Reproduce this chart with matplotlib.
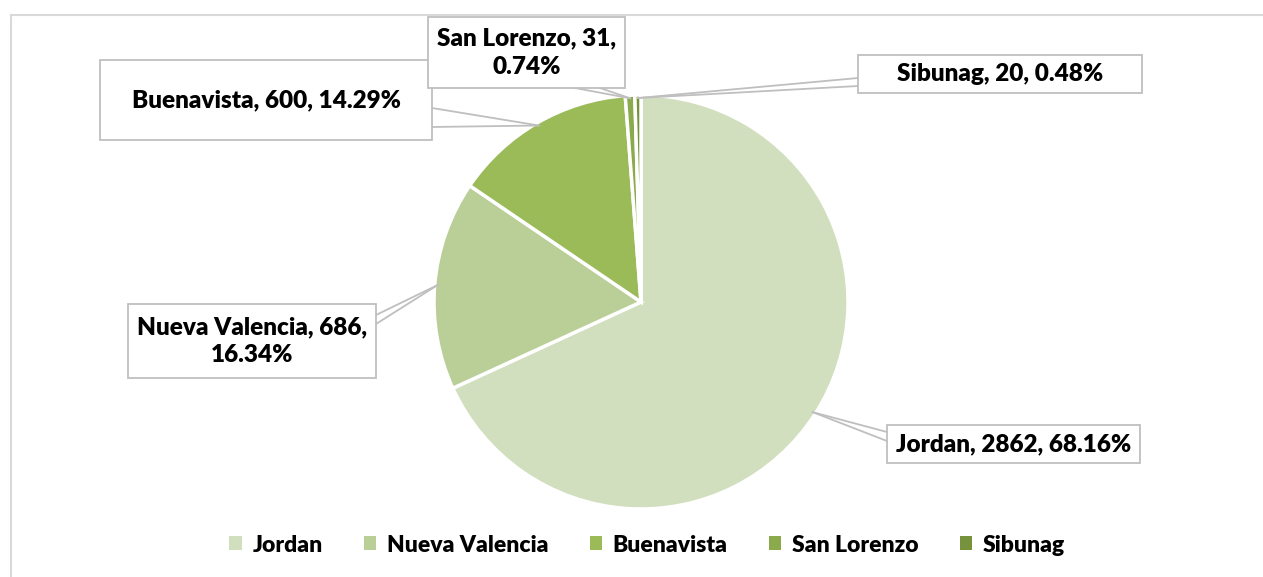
import matplotlib
matplotlib.use("Agg")
import matplotlib.pyplot as plt
import numpy as np
from matplotlib.patches import Rectangle

categories = ["Jordan", "Nueva Valencia", "Buenavista", "San Lorenzo", "Sibunag"]
values = [2862, 686, 600, 31, 20]
percents = ["68.16%", "16.34%", "14.29%", "0.74%", "0.48%"]
colors = ["#D1DFBE", "#BACF97", "#9BBB59", "#8AAA4C", "#76923C"]

W, H = 1263, 577
plt.rcParams['font.family'] = ['Lato', 'DejaVu Sans']

fig = plt.figure(figsize=(W / 100, H / 100), dpi=100)
ax = fig.add_axes([0, 0, 1, 1])

cx, cy, R = 641, H - 302, 207
wedges, _ = ax.pie(values, startangle=90, counterclock=False, colors=colors,
                   center=(cx, cy), radius=R,
                   wedgeprops=dict(edgecolor="white", linewidth=2.5))
ax.set_xlim(0, W)
ax.set_ylim(0, H)
ax.set_aspect('equal')
ax.axis('off')

# outer chart border (only top and left visible)
ax.plot([11, W], [H - 15, H - 15], color="#D9D9D9", lw=1.5)
ax.plot([11, 11], [H - 15, 0], color="#D9D9D9", lw=1.5)

label_text = [
    f"{categories[0]}, {values[0]}, {percents[0]}",
    f"{categories[1]}, {values[1]},\n{percents[1]}",
    f"{categories[2]}, {values[2]}, {percents[2]}",
    f"{categories[3]}, {values[3]},\n{percents[3]}",
    f"{categories[4]}, {values[4]}, {percents[4]}",
]
boxes = [  # x0, y0, x1, y1 in pixel coords (top-left origin)
    (887, 425, 1140, 463),
    (128, 304, 376, 378),
    (100, 60, 432, 140),
    (428, 17, 625, 88),
    (858, 55, 1142, 93),
]
anchors = [  # two points on box where callout pointer attaches
    ((887, 432), (887, 441)),
    ((376, 315), (376, 324)),
    ((432, 108), (432, 127)),
    ((575, 88), (600, 88)),
    ((858, 78), (858, 86)),
]

total = sum(values)
cum = 0
for i, v in enumerate(values):
    mid = 90 - 360 * (cum + v / 2) / total
    cum += v
    px = cx + (R - 3) * np.cos(np.radians(mid))
    py = cy + (R - 3) * np.sin(np.radians(mid))
    x0, y0, x1, y1 = boxes[i]
    ax.add_patch(Rectangle((x0, H - y1), x1 - x0, y1 - y0, facecolor="white",
                           edgecolor="#BFBFBF", lw=1.3, zorder=3))
    for a in anchors[i]:
        ax.plot([px, a[0]], [py, H - a[1]], color="#BFBFBF", lw=1.3, zorder=2)
    ax.text((x0 + x1) / 2, H - (y0 + y1) / 2, label_text[i], ha="center",
            va="center", fontsize=17.5, fontweight="heavy", color="black",
            linespacing=1.35, zorder=4)

handles = [Rectangle((0, 0), 1, 1, facecolor=c) for c in colors]
fig.legend(handles, categories, loc="center", bbox_to_anchor=(647 / W, 1 - 545 / H),
           ncol=5, frameon=False, handlelength=0.55, handleheight=0.55,
           columnspacing=1.8, handletextpad=0.45, prop=dict(weight="heavy", size=16.5))

fig.savefig("out.png", dpi=100, facecolor="white")
